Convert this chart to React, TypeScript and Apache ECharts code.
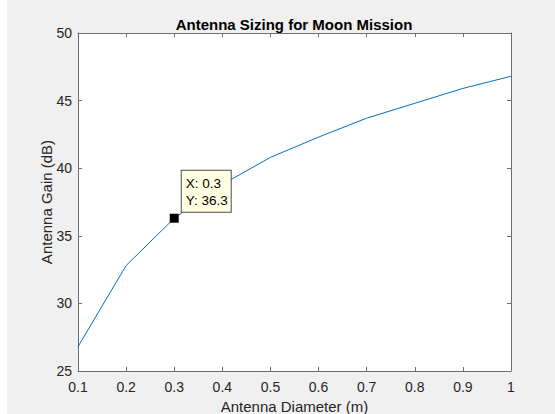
import React, { useEffect, useRef } from "react";
import * as echarts from "echarts";

const diameters = [0.1, 0.2, 0.3, 0.4, 0.5, 0.6, 0.7, 0.8, 0.9, 1.0];
const gains = [26.8, 32.8, 36.3, 38.8, 40.8, 42.3, 43.7, 44.8, 45.9, 46.8];
const tipPoint = [0.3, 36.3];
const titleText = "Antenna Sizing for Moon Mission";
const xName = "Antenna Diameter (m)";
const yName = "Antenna Gain (dB)";

const FONT = "'Liberation Sans', Arial, Helvetica, sans-serif";
const AXIS_COLOR = "#6e6e6e";
const TEXT_COLOR = "#262626";

export default function App() {
  const ref = useRef<HTMLDivElement>(null);
  useEffect(() => {
    document.body.style.margin = "0";
    const chart = echarts.init(ref.current!, null, { renderer: "svg" });
    const fmt = (v: number) => String(Math.round(v * 10) / 10);
    const baseX = {
      type: "value" as const,
      min: 0.1,
      max: 1,
      interval: 0.1,
      splitLine: { show: false },
      axisLine: { show: true, lineStyle: { color: AXIS_COLOR, width: 1 } },
      axisTick: { show: true, inside: true, length: 4, lineStyle: { color: AXIS_COLOR } },
    };
    const baseY = {
      type: "value" as const,
      min: 25,
      max: 50,
      interval: 5,
      splitLine: { show: false },
      axisLine: { show: true, lineStyle: { color: AXIS_COLOR, width: 1 } },
      axisTick: { show: true, inside: true, length: 4, lineStyle: { color: AXIS_COLOR } },
    };
    chart.setOption({
      animation: false,
      backgroundColor: "transparent",
      title: {
        text: titleText,
        left: 294,
        textAlign: "center",
        top: 17,
        padding: 0,
        textStyle: { fontFamily: FONT, fontSize: 15, fontWeight: "bold", color: "#000" },
      },
      grid: {
        left: 78,
        right: 44,
        top: 33,
        height: 338,
        backgroundColor: "#fff",
        show: true,
        borderWidth: 0,
        outerBoundsMode: "none",
        containLabel: false,
      },
      xAxis: [
        {
          ...baseX,
          position: "bottom",
          name: xName,
          nameLocation: "middle",
          nameGap: 28,
          nameMoveOverlap: false,
          nameTextStyle: { fontFamily: FONT, fontSize: 15, color: TEXT_COLOR },
          axisLabel: { formatter: fmt, fontFamily: FONT, fontSize: 14, color: TEXT_COLOR, margin: 9 },
        },
        { ...baseX, position: "top", axisLabel: { show: false } },
      ],
      yAxis: [
        {
          ...baseY,
          position: "left",
          name: yName,
          nameLocation: "middle",
          nameGap: 24,
          nameMoveOverlap: false,
          nameTextStyle: { fontFamily: FONT, fontSize: 15, color: TEXT_COLOR },
          axisLabel: { fontFamily: FONT, fontSize: 14, color: TEXT_COLOR, margin: 6 },
        },
        { ...baseY, position: "right", axisLabel: { show: false } },
      ],
      series: [
        {
          type: "line",
          data: diameters.map((d, i) => [d, gains[i]]),
          showSymbol: false,
          symbol: "none",
          lineStyle: { color: "#0072BD", width: 1 },
          markPoint: {
            symbol: "rect",
            symbolSize: 9,
            itemStyle: { color: "#000" },
            data: [{ coord: tipPoint }],
            label: {
              show: true,
              position: [12, -43],
              formatter: () => `X: ${tipPoint[0]}\nY: ${tipPoint[1]}`,
              backgroundColor: "#ffffe1",
              borderColor: "#4d4d4d",
              borderWidth: 1,
              padding: [4, 4, 3, 4],
              width: 41,
              fontFamily: FONT,
              fontSize: 13.5,
              lineHeight: 17,
              color: "#000",
              align: "left",
              verticalAlign: "top",
            },
          },
        },
      ],
    });
    return () => chart.dispose();
  }, []);
  return (
    <div style={{ width: 555, height: 414, background: "#fff", position: "relative" }}>
      <div
        style={{ position: "absolute", left: 7, top: 0, width: 548, height: 414, background: "#f0f0f0" }}
      >
        <div ref={ref} style={{ position: "absolute", left: -7, top: 0, width: 555, height: 414 }} />
      </div>
    </div>
  );
}
